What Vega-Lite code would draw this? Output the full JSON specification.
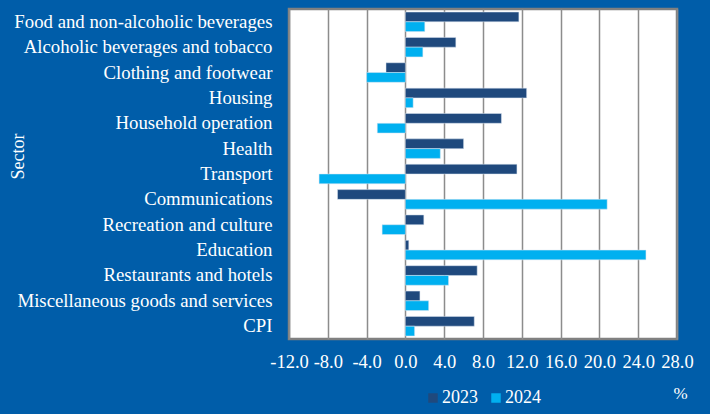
{
  "$schema": "https://vega.github.io/schema/vega-lite/v6.json",
  "width": 388,
  "height": 330,
  "autosize": {"type": "none"},
  "padding": {"left": 289, "top": 9, "right": 33, "bottom": 75},
  "background": "#005DA9",
  "config": {
    "view": {"fill": "white", "stroke": "#808080", "strokeWidth": 2.5},
    "font": "Liberation Serif"
  },
  "data": {
    "values": [
      {"sector": "Food and non-alcoholic beverages", "year": "2023", "value": 11.7},
      {"sector": "Food and non-alcoholic beverages", "year": "2024", "value": 2.0},
      {"sector": "Alcoholic beverages and tobacco", "year": "2023", "value": 5.2},
      {"sector": "Alcoholic beverages and tobacco", "year": "2024", "value": 1.8},
      {"sector": "Clothing and footwear", "year": "2023", "value": -2.0},
      {"sector": "Clothing and footwear", "year": "2024", "value": -4.0},
      {"sector": "Housing", "year": "2023", "value": 12.5},
      {"sector": "Housing", "year": "2024", "value": 0.8},
      {"sector": "Household operation", "year": "2023", "value": 9.9},
      {"sector": "Household operation", "year": "2024", "value": -2.9},
      {"sector": "Health", "year": "2023", "value": 6.0},
      {"sector": "Health", "year": "2024", "value": 3.6},
      {"sector": "Transport", "year": "2023", "value": 11.5},
      {"sector": "Transport", "year": "2024", "value": -8.9},
      {"sector": "Communications", "year": "2023", "value": -7.0},
      {"sector": "Communications", "year": "2024", "value": 20.8},
      {"sector": "Recreation and culture", "year": "2023", "value": 1.9},
      {"sector": "Recreation and culture", "year": "2024", "value": -2.4},
      {"sector": "Education", "year": "2023", "value": 0.35},
      {"sector": "Education", "year": "2024", "value": 24.8},
      {"sector": "Restaurants and hotels", "year": "2023", "value": 7.4},
      {"sector": "Restaurants and hotels", "year": "2024", "value": 4.45},
      {"sector": "Miscellaneous goods and services", "year": "2023", "value": 1.5},
      {"sector": "Miscellaneous goods and services", "year": "2024", "value": 2.4},
      {"sector": "CPI", "year": "2023", "value": 7.1},
      {"sector": "CPI", "year": "2024", "value": 0.95}
    ]
  },
  "mark": {"type": "bar", "stroke": "#dbe5f1", "strokeWidth": 0.5},
  "encoding": {
    "y": {
      "field": "sector",
      "type": "nominal",
      "sort": null,
      "scale": {"paddingInner": 0.23, "paddingOuter": 0.12},
      "axis": {
        "title": "Sector",
        "titleColor": "white",
        "titleFont": "Liberation Serif",
        "titleFontSize": 18,
        "titleFontWeight": "normal",
        "titleAngle": -90,
        "titleX": -271,
        "titleY": 147,
        "titleAlign": "center",
        "titleBaseline": "middle",
        "labelColor": "white",
        "labelFont": "Liberation Serif",
        "labelFontSize": 18.8,
        "labelPadding": 17,
        "labelLimit": 400,
        "domain": false,
        "ticks": false,
        "grid": false
      }
    },
    "yOffset": {
      "field": "year",
      "type": "nominal",
      "scale": {"paddingInner": 0, "paddingOuter": 0}
    },
    "x": {
      "field": "value",
      "type": "quantitative",
      "scale": {"domain": [-12, 28], "nice": false, "zero": false},
      "axis": {
        "values": [-12, -8, -4, 0, 4, 8, 12, 16, 20, 24, 28],
        "labelExpr": "(datum.value < 0 ? '-' : '') + format(abs(datum.value), '.1f')",
        "title": "%",
        "titleColor": "white",
        "titleFont": "Liberation Serif",
        "titleFontSize": 17,
        "titleFontWeight": "normal",
        "titleX": 391,
        "titleY": 54,
        "titleAlign": "center",
        "titleBaseline": "middle",
        "labelColor": "white",
        "labelFont": "Liberation Serif",
        "labelFontSize": 18.5,
        "labelPadding": 13,
        "labelFlush": false,
        "labelOverlap": false,
        "domain": false,
        "ticks": false,
        "grid": true,
        "gridColor": "#8c8c8c",
        "gridWidth": 1.5
      }
    },
    "color": {
      "field": "year",
      "type": "nominal",
      "scale": {"domain": ["2023", "2024"], "range": ["#1F497D", "#00B0F0"]},
      "legend": {
        "title": null,
        "orient": "none",
        "direction": "horizontal",
        "legendX": 135,
        "legendY": 380,
        "symbolType": "square",
        "symbolSize": 90,
        "symbolStrokeWidth": 0,
        "labelColor": "white",
        "labelFont": "Liberation Serif",
        "labelFontSize": 18,
        "labelOffset": 0,
        "columnPadding": 9
      }
    }
  }
}
